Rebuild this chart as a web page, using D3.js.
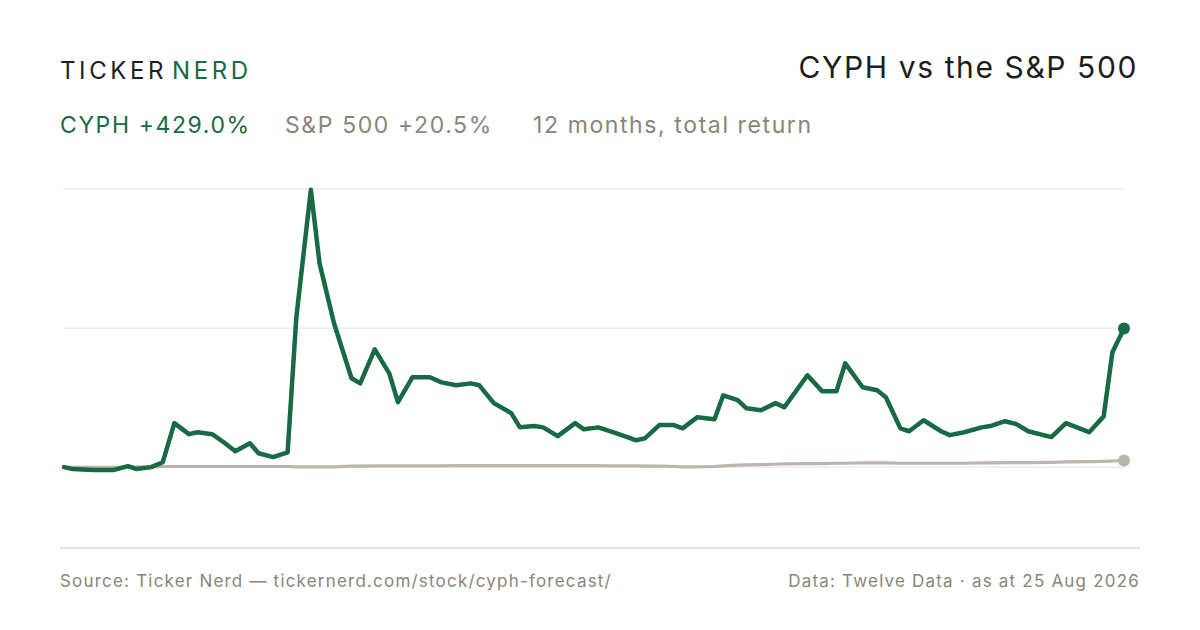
<!DOCTYPE html>
<html>
<head>
<meta charset="utf-8">
<script src="https://cdn.jsdelivr.net/npm/d3@7"></script>
<style>
  body { margin: 0; background: #fff; }
  svg { display: block; font-family: Inter, "Noto Sans", sans-serif; }
</style>
</head>
<body>
<svg id="chart" width="1200" height="630"></svg>
<script>
const days = [0, 3, 10, 17, 22, 25, 30, 34, 38, 43, 46, 51, 55, 59, 64, 67, 72, 77, 80, 85,
    88, 93, 99, 102, 107, 112, 115, 120, 126, 130, 135, 140, 143, 148, 154, 157, 162, 165, 170, 176,
    179, 184, 189, 194, 197, 200, 205, 210, 213, 218, 224, 227, 232, 235, 240, 245, 248, 256, 261, 266,
    269, 275, 280, 283, 288, 291, 296, 302, 305, 310, 316, 319, 324, 328, 332, 340, 345, 353, 358, 361, 365];

// cumulative total return, %
const cyph = [0, -6, -9, -9, 3, -6, 0, 15, 136, 102, 108, 102, 77, 49, 74, 43, 31, 46, 463, 858,
    630, 444, 275, 259, 364, 290, 201, 278, 278, 262, 253, 259, 253, 198, 167, 123, 127, 123, 96, 136,
    117, 123, 108, 93, 83, 89, 130, 130, 120, 154, 148, 222, 207, 182, 176, 198, 185, 284, 235, 235,
    321, 247, 238, 216, 120, 111, 145, 111, 99, 108, 123, 127, 142, 133, 111, 93, 136, 108, 157, 355, 429];

const spx = [0, -1, -1, -1, 0, 1, 1, 2, 2, 2, 2, 2, 2, 2, 2, 2, 2, 2, 1, 1,
    1, 1, 3, 3, 4, 4, 4, 4, 4, 4, 5, 5, 5, 5, 5, 5, 5, 5, 5, 5,
    5, 5, 4, 4, 4, 3, 3, 2, 1, 1, 2, 4, 6, 7, 8, 9, 10, 11, 11, 12,
    12, 13, 13, 13, 12, 12, 12, 12, 12, 12, 13, 13, 14, 14, 14, 15, 16, 17, 18, 19, 20.5];

const gridTicks = [0, 430, 860];

const tickerName = 'CYPH';
const cyphLabel = 'CYPH +429.0%';
const spxLabel = 'S&P 500 +20.5%';
const periodLabel = '12 months, total return';

const green = '#176a43';
const grey = '#bcb5aa';
const mutedText = '#8a8576';

const svg = d3.select('#chart');

const x = d3.scaleLinear().domain([0, 365]).range([64, 1124]);
const y = d3.scaleLinear().domain([-250, 860]).range([548, 189]);

// header
const logo = svg.append('text')
    .attr('x', 60)
    .attr('y', 79)
    .attr('font-size', 24)
    .attr('letter-spacing', 3.6)
    .attr('font-weight', 400);
logo.append('tspan').attr('fill', '#1d1d1b').text('TICKER');
logo.append('tspan').attr('fill', green).attr('dx', 5).text('NERD');

svg.append('text')
    .attr('x', 1138)
    .attr('y', 78)
    .attr('text-anchor', 'end')
    .attr('font-size', 30)
    .attr('letter-spacing', 1.6)
    .attr('fill', '#1d1d1b')
    .text(`${tickerName} vs the S&P 500`);

const sub = svg.append('text')
    .attr('x', 60)
    .attr('y', 133)
    .attr('font-size', 23)
    .attr('letter-spacing', 1.6);
sub.append('tspan').attr('fill', green).text(cyphLabel);
sub.append('tspan').attr('x', 285).attr('fill', mutedText).text(spxLabel);
sub.append('tspan').attr('x', 533).attr('fill', mutedText).text(periodLabel);

// gridlines
svg.append('g')
    .selectAll('line')
    .data(gridTicks)
    .join('line')
    .attr('x1', 63)
    .attr('x2', 1125)
    .attr('y1', d => y(d))
    .attr('y2', d => y(d))
    .attr('stroke', '#ebe8e2')
    .attr('stroke-width', 1.2);

// bottom rule
svg.append('line')
    .attr('x1', 60)
    .attr('x2', 1140)
    .attr('y1', 548)
    .attr('y2', 548)
    .attr('stroke', '#dcd8cd')
    .attr('stroke-width', 1.5);

const line = d3.line()
    .x((d, i) => x(days[i]))
    .y(d => y(d));

svg.append('path')
    .datum(spx)
    .attr('d', line)
    .attr('fill', 'none')
    .attr('stroke', grey)
    .attr('stroke-width', 3.2)
    .attr('stroke-linejoin', 'round');

svg.append('path')
    .datum(cyph)
    .attr('d', line)
    .attr('fill', 'none')
    .attr('stroke', green)
    .attr('stroke-width', 4.5)
    .attr('stroke-linejoin', 'round')
    .attr('stroke-linecap', 'round');

// end markers
const last = days.length - 1;
svg.append('circle')
    .attr('cx', x(days[last]))
    .attr('cy', y(spx[last]))
    .attr('r', 6)
    .attr('fill', grey);
svg.append('circle')
    .attr('cx', x(days[last]))
    .attr('cy', y(cyph[last]))
    .attr('r', 6)
    .attr('fill', green);

// footer
svg.append('text')
    .attr('x', 60)
    .attr('y', 587)
    .attr('font-size', 17)
    .attr('letter-spacing', 1.2)
    .attr('fill', mutedText)
    .text('Source: Ticker Nerd \u2014 tickernerd.com/stock/cyph-forecast/');

svg.append('text')
    .attr('x', 1140)
    .attr('y', 587)
    .attr('text-anchor', 'end')
    .attr('font-size', 17)
    .attr('letter-spacing', 1.2)
    .attr('fill', mutedText)
    .text('Data: Twelve Data \u00b7 as at 25 Aug 2026');
</script>
</body>
</html>
